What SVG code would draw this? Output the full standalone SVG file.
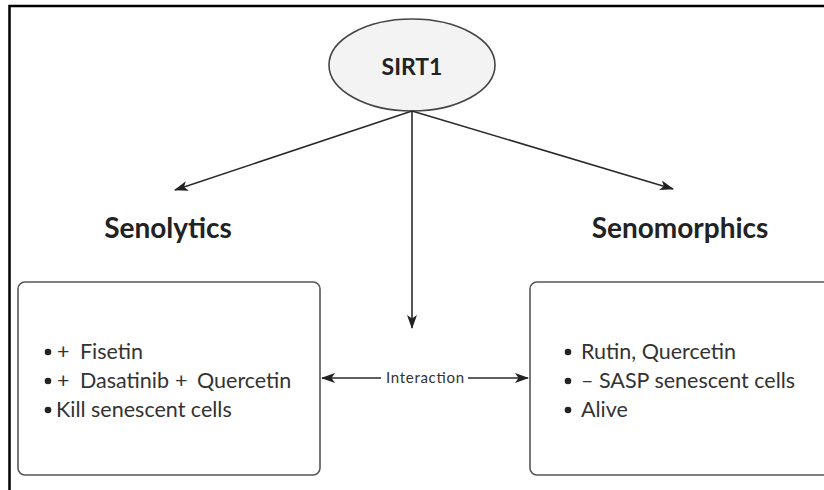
<svg xmlns="http://www.w3.org/2000/svg" width="824" height="490" viewBox="0 0 824 490">
  <style>
    .frame { fill: none; stroke: #000; stroke-width: 2.5; }
    .box { fill: #fff; stroke: #555; stroke-width: 1.6; }
    .ell { fill: #f3f3f3; stroke: #444; stroke-width: 1.6; }
    .edge { fill: none; stroke: #2a2a2a; stroke-width: 1.6; }
    .title { font-family: Lato, "Liberation Sans", sans-serif; font-weight: bold; fill: #222; }
    .body { font-family: Lato, "Liberation Sans", sans-serif; font-size: 21.5px; fill: #333; }
    .small { font-family: Lato, "Liberation Sans", sans-serif; font-size: 15px; fill: #333; }
    .dot { fill: #222; }
  </style>
  <defs>
    <marker id="arrow" viewBox="0 0 14 10" refX="13" refY="5" markerWidth="14" markerHeight="10" markerUnits="userSpaceOnUse" orient="auto">
      <path d="M0,0 L14,5 L0,10 L3.5,5 z" fill="#222"/>
    </marker>
  </defs>

  <rect width="824" height="490" fill="#fff"/>
  <path class="frame" d="M9.5,490 V6 H824"/>

  <!-- central regulator -->
  <g id="sirt1">
    <ellipse class="ell" cx="412" cy="65" rx="83" ry="46"/>
    <text class="title" x="412" y="75" font-size="23" text-anchor="middle">SIRT1</text>
  </g>

  <!-- headings -->
  <g id="senolytics-label">
    <text class="title" x="168" y="238" font-size="28" text-anchor="middle">Senolytics</text>
  </g>
  <g id="senomorphics-label">
    <text class="title" x="680" y="238" font-size="28" text-anchor="middle">Senomorphics</text>
  </g>

  <!-- left box -->
  <g id="senolytics-box">
    <rect class="box" x="18" y="282" width="302" height="193" rx="7"/>
    <circle class="dot" cx="48" cy="352" r="3.3"/>
    <text class="body" x="57" y="359">+</text>
    <text class="body" x="80" y="359">Fisetin</text>
    <circle class="dot" cx="48" cy="381" r="3.3"/>
    <text class="body" x="57" y="388">+</text>
    <text class="body" x="80" y="388">Dasatinib</text>
    <text class="body" x="175" y="388">+</text>
    <text class="body" x="197" y="388">Quercetin</text>
    <circle class="dot" cx="48" cy="410" r="3.3"/>
    <text class="body" x="56" y="417">Kill senescent cells</text>
  </g>

  <!-- right box -->
  <g id="senomorphics-box">
    <rect class="box" x="530" y="282" width="304" height="193" rx="7"/>
    <circle class="dot" cx="568" cy="352" r="3.3"/>
    <text class="body" x="581" y="359">Rutin, Quercetin</text>
    <circle class="dot" cx="568" cy="381" r="3.3"/>
    <text class="body" x="581" y="388">– SASP senescent cells</text>
    <circle class="dot" cx="568" cy="410" r="3.3"/>
    <text class="body" x="581" y="417">Alive</text>
  </g>

  <!-- connectors -->
  <g id="connectors">
    <line class="edge" x1="412" y1="111" x2="175" y2="190" marker-end="url(#arrow)"/>
    <line class="edge" x1="412" y1="111" x2="673" y2="189" marker-end="url(#arrow)"/>
    <line class="edge" x1="412" y1="111" x2="412" y2="328" marker-end="url(#arrow)"/>
    <line class="edge" x1="381" y1="378" x2="322" y2="378" marker-end="url(#arrow)"/>
    <line class="edge" x1="468" y1="378" x2="528" y2="378" marker-end="url(#arrow)"/>
    <text class="small" x="386" y="383" textLength="78" lengthAdjust="spacing">Interaction</text>
  </g>
</svg>
